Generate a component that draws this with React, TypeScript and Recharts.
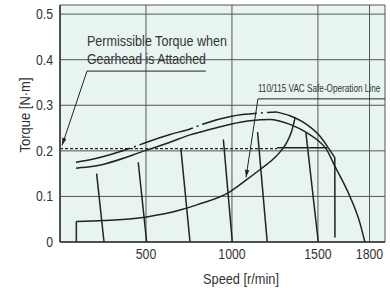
import React from 'react';
import { LineChart, Line, XAxis, YAxis, CartesianGrid, ReferenceDot } from 'recharts';

const FONT = '"Liberation Sans", Arial, sans-serif';
const INK = '#222';
const TXT = '#333';
const SQUEEZE = 0.82;

// ticks
const xTicks = [500, 1000, 1500, 1800];
const yTicks = [0, 0.1, 0.2, 0.3, 0.4, 0.5];

// torque curves (s = speed r/min, t = torque N·m)
const upperDashDot = [
  { s: 93, t: 0.175 }, { s: 194, t: 0.182 }, { s: 426, t: 0.208 }, { s: 504, t: 0.219 },
  { s: 640, t: 0.236 }, { s: 756, t: 0.248 }, { s: 833, t: 0.259 }, { s: 998, t: 0.276 },
  { s: 1163, t: 0.283 }, { s: 1262, t: 0.285 },
];
const upperSolid = [
  { s: 1262, t: 0.285 }, { s: 1337, t: 0.277 }, { s: 1434, t: 0.258 }, { s: 1512, t: 0.232 },
  { s: 1560, t: 0.207 },
];
const ratedCurve = [
  { s: 93, t: 0.162 }, { s: 194, t: 0.166 }, { s: 500, t: 0.201 }, { s: 640, t: 0.219 },
  { s: 756, t: 0.235 }, { s: 833, t: 0.243 }, { s: 998, t: 0.259 }, { s: 1105, t: 0.266 },
  { s: 1221, t: 0.269 }, { s: 1337, t: 0.258 }, { s: 1434, t: 0.240 }, { s: 1512, t: 0.219 },
  { s: 1545, t: 0.206 }, { s: 1599, t: 0.166 }, { s: 1686, t: 0.100 }, { s: 1744, t: 0.042 },
  { s: 1773, t: 0 },
];

// 110/115 VAC safe-operation line
const safeStep = [{ s: 95, t: 0 }, { s: 95, t: 0.045 }];
const safeCurve = [
  { s: 95, t: 0.045 }, { s: 252, t: 0.047 }, { s: 504, t: 0.055 }, { s: 698, t: 0.07 },
  { s: 800, t: 0.082 }, { s: 988, t: 0.11 }, { s: 1076, t: 0.134 }, { s: 1160, t: 0.158 },
  { s: 1240, t: 0.182 }, { s: 1285, t: 0.2 }, { s: 1318, t: 0.218 }, { s: 1347, t: 0.243 },
  { s: 1368, t: 0.274 },
];

// permissible torque with gearhead
const permissibleDashed = [{ s: 0, t: 0.205 }, { s: 1262, t: 0.205 }];
const permissibleSolid = [{ s: 1262, t: 0.207 }, { s: 1556, t: 0.207 }];

// load lines
const loadLines = [
  [{ s: 213, t: 0.15 }, { s: 256, t: 0 }],
  [{ s: 455, t: 0.175 }, { s: 504, t: 0 }],
  [{ s: 703, t: 0.205 }, { s: 756, t: 0 }],
  [{ s: 950, t: 0.225 }, { s: 1002, t: 0 }],
  [{ s: 1149, t: 0.241 }, { s: 1205, t: 0 }],
  [{ s: 1430, t: 0.24 }, { s: 1502, t: 0 }],
  [{ s: 1560, t: 0.207 }, { s: 1598, t: 0.185 }, { s: 1599, t: 0.01 }],
];

// annotations
const gearLeader = [{ s: 849, t: 0.375 }, { s: 157, t: 0.375 }, { s: 12, t: 0.212 }];
const safeLeader = [{ s: 1890, t: 0.314 }, { s: 1151, t: 0.314 }, { s: 1082, t: 0.142 }];
const gearText = ['Permissible Torque when', 'Gearhead is Attached'];
const safeText = '110/115 VAC Safe-Operation Line';

// condensed text: the narrow face isn't installed, so squeeze horizontally
const NText = ({ x, y, anchor = 'start', size = 15, rotate = 0, len, sq = SQUEEZE, children }: any) =>
  len ? (
    <text transform={`translate(${x} ${y}) rotate(${rotate})`} textLength={len} lengthAdjust="spacingAndGlyphs"
      textAnchor={anchor} dominantBaseline="central" fontFamily={FONT} fontSize={size} fill={TXT}>
      {children}
    </text>
  ) : (
    <text transform={`translate(${x} ${y}) rotate(${rotate}) scale(${sq} 1)`}
      textAnchor={anchor} dominantBaseline="central" fontFamily={FONT} fontSize={size} fill={TXT}>
      {children}
    </text>
  );

const XTick = ({ x, y, payload }: any) => (
  <NText x={x} y={y + 4} anchor="middle">{payload.value}</NText>
);
const YTick = ({ x, y, payload }: any) => (
  <NText x={x + 1} y={y} anchor="end">{payload.value}</NText>
);

const XLabel = ({ viewBox }: any) => (
  <NText x={viewBox.x + 181} y={viewBox.y + 36} anchor="middle" len={76}>Speed [r/min]</NText>
);
const YLabel = () => (
  <NText x={24} y={115} anchor="middle" rotate={-90} len={75}>Torque [N·m]</NText>
);

const seg = (data: any[], key: string, extra: any = {}) => (
  <Line key={key} data={data} dataKey="t" type="linear" stroke={INK} strokeWidth={1.5}
    dot={false} activeDot={false} isAnimationActive={false} {...extra} />
);

export default function App() {
  return (
    <div style={{ position: 'absolute', left: 0, top: 0, background: '#fff' }}>
      <LineChart width={390} height={288} margin={{ top: 5, right: 5, left: 0, bottom: 0 }}>
        <defs>
          <marker id="arrow" viewBox="0 0 10 6" refX="10" refY="3" markerWidth="8" markerHeight="4.5"
            orient="auto" markerUnits="userSpaceOnUse">
            <path d="M0,0 L10,3 L0,6 z" fill={INK} />
          </marker>
        </defs>
        <CartesianGrid stroke="#555" strokeWidth={1} fill="#e8f4ef" fillOpacity={1} />
        <XAxis type="number" dataKey="s" domain={[0, 1890]} ticks={xTicks} height={46}
          tickLine={false} axisLine={{ stroke: '#333', strokeWidth: 1.5 }}
          tick={<XTick />} label={<XLabel />} />
        <YAxis type="number" dataKey="t" domain={[0, 0.52]} ticks={yTicks} width={60}
          tickLine={false} axisLine={{ stroke: '#333', strokeWidth: 1.5 }}
          tick={<YTick />} label={<YLabel />} />

        {seg(permissibleDashed, 'pd', { strokeDasharray: '3 2', strokeWidth: 1.2 })}
        {seg(permissibleSolid, 'ps')}
        {loadLines.map((d, i) => seg(d, `load${i}`))}
        {seg(upperDashDot, 'ud', { type: 'monotone', strokeDasharray: '56 4 2 4' })}
        {seg(upperSolid, 'us', { type: 'monotone' })}
        {seg(ratedCurve, 'rc', { type: 'monotone' })}
        {seg(safeStep, 'st')}
        {seg(safeCurve, 'sc', { type: 'monotone' })}
        {seg(gearLeader, 'gl', { strokeWidth: 1, markerEnd: 'url(#arrow)' })}
        {seg(safeLeader, 'sl', { strokeWidth: 1, markerEnd: 'url(#arrow)' })}

        <ReferenceDot x={157} y={0.44} r={0} isFront
          shape={(p: any) => <NText x={p.cx} y={p.cy} size={14} len={140}>{gearText[0]}</NText>} />
        <ReferenceDot x={157} y={0.401} r={0} isFront
          shape={(p: any) => <NText x={p.cx} y={p.cy} size={14} len={119}>{gearText[1]}</NText>} />
        <ReferenceDot x={1151} y={0.337} r={0} isFront
          shape={(p: any) => <NText x={p.cx} y={p.cy} size={10} sq={0.82}>{safeText}</NText>} />
      </LineChart>
    </div>
  );
}
